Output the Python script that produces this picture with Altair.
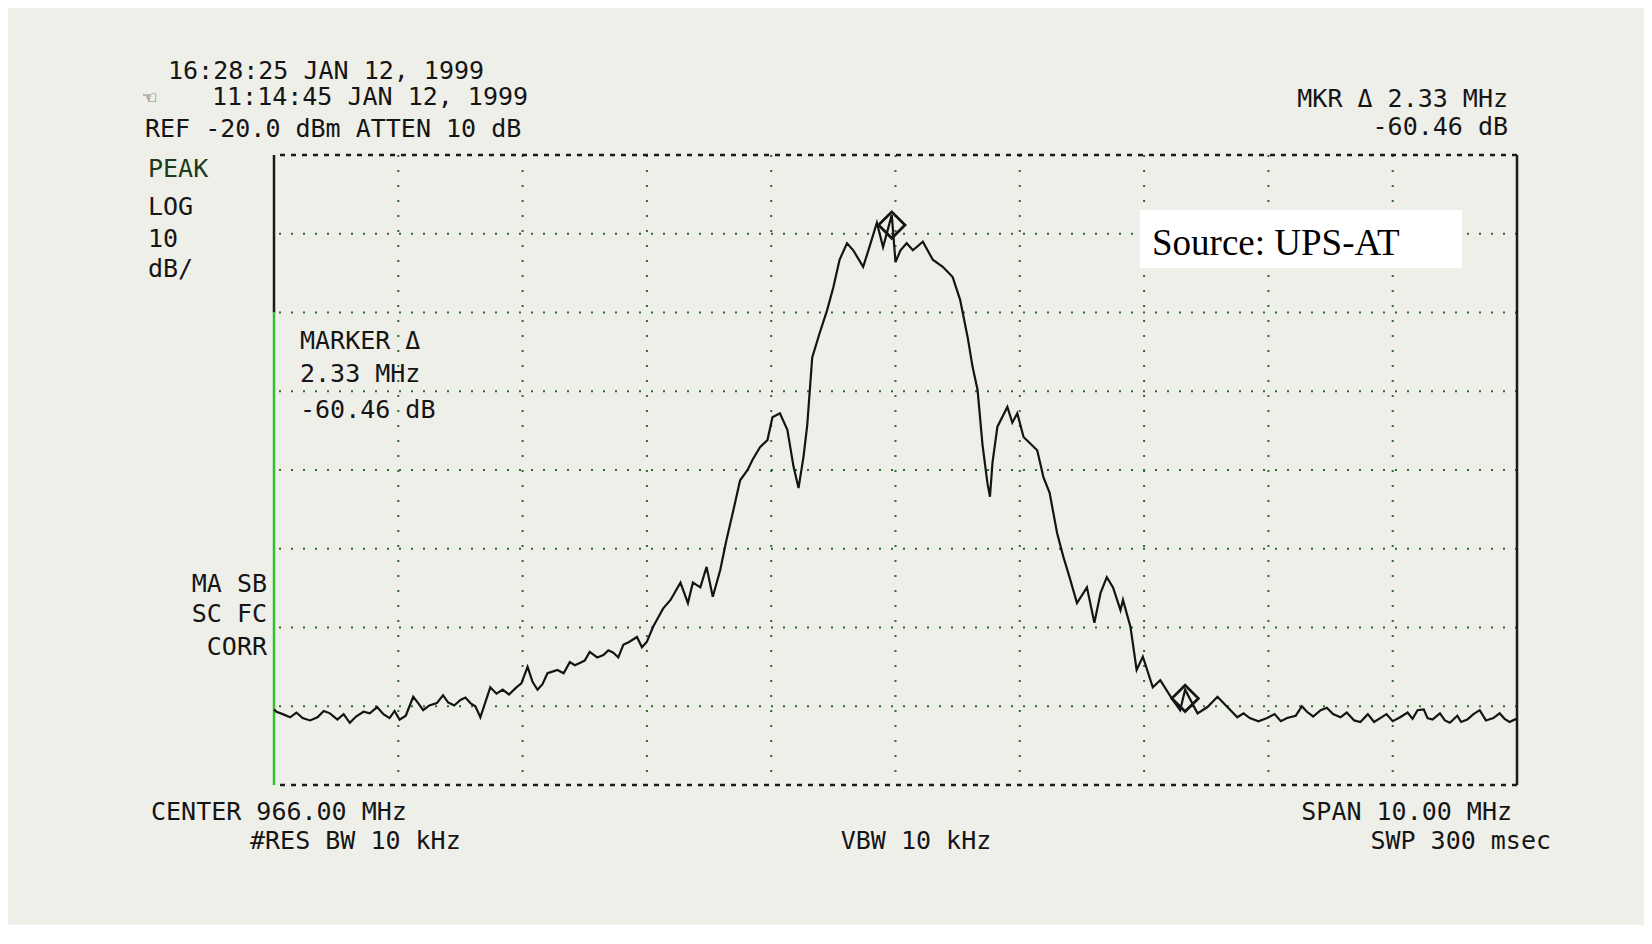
import altair as alt
import pandas as pd

# ---- trace data (frequency in MHz, level in dBm) ----
freq = [
    961.00, 961.02, 961.07, 961.13, 961.18, 961.23, 961.29, 961.35, 961.40, 961.45,
    961.51, 961.56, 961.61, 961.66, 961.72, 961.77, 961.83, 961.88, 961.93, 961.97,
    962.01, 962.06, 962.12, 962.16, 962.20, 962.25, 962.31, 962.36, 962.40, 962.45,
    962.50, 962.54, 962.58, 962.62, 962.66, 962.70, 962.74, 962.79, 962.84, 962.89,
    962.95, 962.99, 963.04, 963.08, 963.12, 963.16, 963.20, 963.24, 963.28, 963.33,
    963.38, 963.42, 963.46, 963.50, 963.54, 963.60, 963.65, 963.69, 963.73, 963.77,
    963.81, 963.86, 963.92, 963.96, 964.00, 964.05, 964.13, 964.19, 964.27, 964.33,
    964.37, 964.43, 964.48, 964.53, 964.59, 964.64, 964.69, 964.75, 964.81, 964.85,
    964.91, 964.97, 965.01, 965.07, 965.13, 965.18, 965.22, 965.26, 965.29, 965.33,
    965.39, 965.45, 965.50, 965.55, 965.61, 965.66, 965.74, 965.79, 965.85, 965.90,
    965.97, 966.00, 966.04, 966.09, 966.14, 966.22, 966.30, 966.38, 966.46, 966.52,
    966.58, 966.62, 966.66, 966.70, 966.74, 966.76, 966.78, 966.82, 966.90, 966.94,
    966.98, 967.03, 967.14, 967.19, 967.24, 967.30, 967.35, 967.40, 967.46, 967.54,
    967.60, 967.65, 967.70, 967.75, 967.81, 967.83, 967.89, 967.94, 967.99, 968.07,
    968.13, 968.23, 968.29, 968.33, 968.43, 968.51, 968.59, 968.67, 968.75, 968.80,
    968.85, 968.92, 968.99, 969.05, 969.10, 969.15, 969.22, 969.27, 969.31, 969.36,
    969.42, 969.47, 969.52, 969.58, 969.63, 969.69, 969.74, 969.80, 969.85, 969.90,
    969.95, 970.00, 970.06, 970.12, 970.16, 970.20, 970.25, 970.28, 970.32, 970.38,
    970.42, 970.46, 970.52, 970.55, 970.60, 970.65, 970.70, 970.75, 970.81, 970.86,
    970.90, 970.94, 970.98, 971.00,
]
level = [
    -90.4, -90.7, -91.0, -91.4, -90.8, -91.5, -91.8, -91.4, -90.6, -90.9,
    -91.7, -91.0, -92.1, -91.3, -90.7, -90.9, -90.1, -91.0, -91.5, -90.6,
    -91.7, -91.2, -88.8, -89.6, -90.5, -89.9, -89.6, -88.6, -89.5, -89.9,
    -89.2, -88.9, -89.6, -90.0, -91.4, -89.5, -87.6, -88.4, -87.9, -88.5,
    -87.6, -87.1, -85.0, -86.9, -87.9, -87.2, -85.8, -85.6, -85.4, -85.8,
    -84.4, -84.8, -84.5, -84.2, -83.1, -83.8, -83.5, -82.9, -83.2, -83.8,
    -82.2, -81.8, -81.2, -82.5, -81.8, -79.9, -77.6, -76.5, -74.3, -76.9,
    -74.3, -74.9, -72.3, -76.1, -72.7, -68.9, -65.5, -61.3, -60.0, -58.7,
    -57.1, -56.2, -53.3, -52.8, -54.9, -59.6, -62.3, -58.3, -54.3, -45.7,
    -42.6, -39.7, -36.8, -33.3, -31.2, -32.1, -34.2, -31.7, -28.6, -31.7,
    -27.6, -33.6, -32.1, -31.2, -32.1, -31.0, -33.3, -34.2, -35.5, -38.4,
    -43.1, -46.9, -49.8, -56.8, -61.7, -63.4, -59.1, -54.5, -52.0, -54.0,
    -52.8, -55.8, -57.5, -60.9, -62.9, -68.0, -71.0, -73.6, -76.9, -74.9,
    -79.4, -75.6, -73.6, -74.9, -77.8, -76.5, -79.9, -85.4, -83.7, -87.6,
    -86.7, -89.2, -90.5, -87.9, -90.9, -90.1, -88.8, -90.1, -91.4, -90.9,
    -91.5, -91.9, -91.5, -91.0, -91.9, -91.5, -91.2, -90.0, -90.7, -91.3,
    -90.5, -90.2, -91.0, -91.4, -90.8, -91.8, -92.0, -91.0, -92.0, -91.5,
    -91.0, -91.9, -91.4, -90.8, -91.6, -90.5, -90.4, -91.5, -91.7, -90.9,
    -91.8, -92.1, -91.2, -92.0, -91.7, -91.0, -90.5, -91.8, -91.5, -90.9,
    -91.6, -92.0, -91.7, -91.6,
]

# markers (peak and delta marker)
marker_freq = [965.97, 968.33]
marker_level = [-28.9, -89.0]

# graticule
grid_freq = [962, 963, 964, 965, 966, 967, 968, 969, 970]
grid_level = [-30, -40, -50, -60, -70, -80, -90]
f_min, f_max = 961, 971
ref_level, bottom_level = -20, -100

W, H = 1243, 630
BG = "#efefe9"
MONO = "DejaVu Sans Mono"
FS = 25
TXT = "#151515"

xs = alt.Scale(domain=[f_min, f_max], nice=False, zero=False)
ys = alt.Scale(domain=[bottom_level, ref_level], nice=False, zero=False)

trace_df = pd.DataFrame({"f": freq, "db": level})
marker_df = pd.DataFrame({"f": marker_freq, "db": marker_level})
vgrid_df = pd.DataFrame({"f": grid_freq})
hgrid_df = pd.DataFrame({"db": grid_level})
hborder_df = pd.DataFrame({"db": [ref_level, bottom_level]})
vborder_black = pd.DataFrame({"f": [f_min, f_max], "y1": [ref_level, ref_level], "y2": [-40, bottom_level]})
vborder_green = pd.DataFrame({"f": [f_min], "y1": [-40], "y2": [bottom_level]})

vgrid = alt.Chart(vgrid_df).mark_rule(color="#2f6a2f", strokeWidth=2, strokeDash=[2, 13]).encode(
    x=alt.X("f:Q", scale=xs, axis=None)
)
hgrid = alt.Chart(hgrid_df).mark_rule(color="#2f6a2f", strokeWidth=2, strokeDash=[2, 10]).encode(
    y=alt.Y("db:Q", scale=ys, axis=None)
)
hborder = alt.Chart(hborder_df).mark_rule(color="#1a1a1a", strokeWidth=2.5, strokeDash=[5, 6]).encode(
    y=alt.Y("db:Q", scale=ys, axis=None)
)
vb1 = alt.Chart(vborder_black).mark_rule(color="#1a1a1a", strokeWidth=2.5).encode(
    x=alt.X("f:Q", scale=xs, axis=None),
    y=alt.Y("y1:Q", scale=ys, axis=None),
    y2="y2:Q",
)
vb2 = alt.Chart(vborder_green).mark_rule(color="#33c033", strokeWidth=2.5).encode(
    x=alt.X("f:Q", scale=xs, axis=None),
    y=alt.Y("y1:Q", scale=ys, axis=None),
    y2="y2:Q",
)

trace = alt.Chart(trace_df).mark_line(color="#141414", strokeWidth=2.2).encode(
    x=alt.X("f:Q", scale=xs, axis=None),
    y=alt.Y("db:Q", scale=ys, axis=None),
)
markers = alt.Chart(marker_df).mark_point(
    shape="diamond", size=700, filled=False, stroke="#141414", strokeWidth=2.8, opacity=1
).encode(
    x=alt.X("f:Q", scale=xs, axis=None),
    y=alt.Y("db:Q", scale=ys, axis=None),
)

# source box
box = alt.Chart(pd.DataFrame({"t": ["box"]})).mark_rect(color="white").encode(
    x=alt.value(866), x2=alt.value(1188), y=alt.value(55), y2=alt.value(113)
)


def label(text, px, py, align="left", font=MONO, size=FS, color=TXT):
    return alt.Chart(pd.DataFrame({"t": [text]})).mark_text(
        align=align, baseline="alphabetic", font=font, fontSize=size, color=color
    ).encode(x=alt.value(px), y=alt.value(py), text="t:N")


labels = [
    label("16:28:25 JAN 12, 1999", -106, -76),
    label("\u261c", -131, -50, size=22),
    label("11:14:45 JAN 12, 1999", -62, -50),
    label("REF -20.0 dBm  ATTEN 10 dB", -129, -18),
    label("MKR \u0394 2.33 MHz", 1234, -48, align="right"),
    label("-60.46 dB", 1234, -20, align="right"),
    label("PEAK", -126, 22, color="#1c3a1c"),
    label("LOG", -126, 60),
    label("10", -126, 92),
    label("dB/", -126, 122),
    label("MARKER \u0394", 26, 194),
    label("2.33 MHz", 26, 227),
    label("-60.46 dB", 26, 263),
    label("MA SB", -7, 437, align="right"),
    label("SC FC", -7, 467, align="right"),
    label("CORR", -7, 500, align="right"),
    label("CENTER 966.00 MHz", -123, 665),
    label("SPAN 10.00 MHz", 1238, 665, align="right"),
    label("#RES BW 10 kHz", -24, 694),
    label("VBW 10 kHz", 642, 694, align="center"),
    label("SWP 300 msec", 1277, 694, align="right"),
    label("Source: UPS-AT", 878, 100, font="Liberation Serif", size=37, color="#000000"),
]

chart = alt.layer(
    vgrid, hgrid, hborder, vb1, vb2, trace, markers, box, *labels
).properties(
    width=W,
    height=H,
    background=BG,
    padding={"left": 266, "top": 147, "right": 127, "bottom": 140},
    autosize=alt.AutoSizeParams(type="none"),
).configure_view(strokeWidth=0)

chart.save("out.html", embed_options={"renderer": "svg", "actions": False})
